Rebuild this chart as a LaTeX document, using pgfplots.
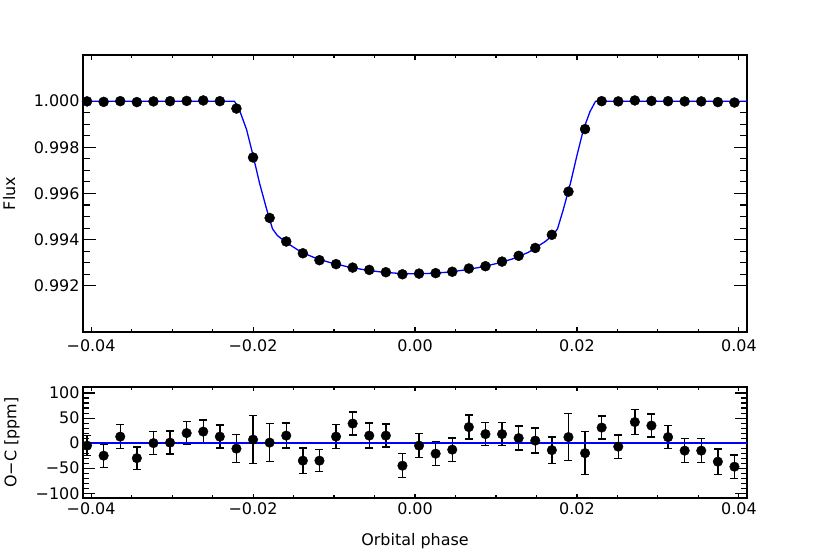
\documentclass[border=0pt]{standalone}
\usepackage{pgfplots}
\pgfplotsset{compat=1.18}
\usepackage{fontspec}
\setmainfont{DejaVu Sans}
\definecolor{fitblue}{RGB}{0,0,255}
\begin{document}
\begin{tikzpicture}[x=1bp,y=1bp]
\path[use as bounding box] (0,0) rectangle (830,554);
\pgfplotsset{
  every axis/.append style={
    scale only axis, width=664bp,
    axis line style={line width=1.3bp},
    tick style={line width=1.1bp, black},
    tick align=inside,
    xmin=-0.041, xmax=0.041,
    xtick={-0.04,-0.02,0,0.02,0.04},
    scaled x ticks=false, scaled y ticks=false,
    minor x tick num=3,
    tick label style={font=\fontsize{16}{19}\selectfont},
    label style={font=\fontsize{16}{19}\selectfont},
    clip=false,
  },
}
% ---------- top panel ----------
\begin{axis}[
  at={(83bp,222bp)}, anchor=south west, height=277bp,
  ymin=0.990, ymax=1.002,
  ytick={0.992,0.994,0.996,0.998,1.000},
  yticklabels={0.992,0.994,0.996,0.998,1.000},
  minor y tick num=3,
  xticklabels={−0.04,−0.02,0.00,0.02,0.04},
  xticklabel style={yshift=-4bp},
  major tick length=13bp, minor tick length=7bp,
  x tick style={/pgfplots/major tick length=5bp, /pgfplots/minor tick length=3bp},
  ylabel={Flux},
  ylabel style={at={(axis description cs:-0.111,0.5)}, anchor=center},
]
\addplot[only marks, mark=*, mark size=5bp, black] table {
x y
-0.04050 0.99999
-0.03845 0.99997
-0.03640 1.00000
-0.03435 0.99996
-0.03230 0.99999
-0.03025 1.00000
-0.02820 1.00001
-0.02615 1.00003
-0.02410 1.00000
-0.02205 0.99968
-0.02000 0.99756
-0.01795 0.99494
-0.01590 0.99392
-0.01385 0.99341
-0.01180 0.99311
-0.00975 0.99294
-0.00770 0.99279
-0.00565 0.99269
-0.00360 0.99259
-0.00155 0.99250
0.00050 0.99253
0.00255 0.99255
0.00460 0.99261
0.00665 0.99275
0.00870 0.99285
0.01075 0.99305
0.01280 0.99330
0.01485 0.99364
0.01690 0.99421
0.01895 0.99608
0.02100 0.99879
0.02305 1.00000
0.02510 0.99999
0.02715 1.00003
0.02920 1.00001
0.03125 1.00000
0.03330 0.99999
0.03535 0.99999
0.03740 0.99996
0.03945 0.99994
};
\addplot[fitblue, line width=1.3bp, no markers] coordinates {
(-0.0410,1.00000) (-0.0223,1.00000) (-0.0216,0.99954) (-0.0208,0.99877)
(-0.0200,0.99765) (-0.0192,0.99645) (-0.0183,0.99529) (-0.0176,0.99447)
(-0.0170,0.99418) (-0.0160,0.99390) (-0.0140,0.99345) (-0.0120,0.99316)
(-0.0100,0.99296) (-0.0080,0.99280) (-0.0060,0.99268) (-0.0040,0.99259)
(-0.0020,0.99254) (0.0000,0.99252) (0.0020,0.99254) (0.0040,0.99259)
(0.0060,0.99268) (0.0080,0.99280) (0.0100,0.99296) (0.0120,0.99316)
(0.0140,0.99345) (0.0160,0.99390) (0.0170,0.99418) (0.0176,0.99447)
(0.0183,0.99529) (0.0192,0.99645) (0.0200,0.99765) (0.0208,0.99877)
(0.0216,0.99954) (0.0223,1.00000) (0.0410,1.00000)
};
\end{axis}
% ---------- bottom panel ----------
\begin{axis}[
  at={(83bp,56bp)}, anchor=south west, height=111bp,
  ymin=-109.5, ymax=112,
  ytick={-100,-50,0,50,100},
  yticklabels={−100,−50,0,50,100},
  minor y tick num=4,
  xticklabels={−0.04,−0.02,0.00,0.02,0.04},
  xticklabel style={yshift=-1bp},
  major tick length=12bp, minor tick length=6bp,
  x tick style={/pgfplots/major tick length=4bp, /pgfplots/minor tick length=3bp},
  ylabel={O−C [ppm]},
  ylabel style={at={(axis description cs:-0.107,0.5)}, anchor=center},
  xlabel={Orbital phase},
  xlabel style={at={(axis description cs:0.5,-0.387)}, anchor=center},
]
\addplot[only marks, mark=*, mark size=4.8bp, black,
  error bars/.cd, y dir=both, y explicit,
  error bar style={line width=1.3bp, black},
  error mark options={rotate=90, mark size=4bp, line width=1.3bp, black},
] table[x=x, y=y, y error=e] {
x y e
-0.04050 -5 20
-0.03845 -25 23
-0.03640 13 24
-0.03435 -30 22
-0.03230 0 23
-0.03025 1 23
-0.02820 20 23
-0.02615 23 23
-0.02410 13 23
-0.02205 -11 28
-0.02000 7 48
-0.01795 1 38
-0.01590 15 25
-0.01385 -35 25
-0.01180 -35 22
-0.00975 13 24
-0.00770 39 23
-0.00565 15 25
-0.00360 15 23
-0.00155 -45 24
0.00050 -5 24
0.00255 -21 23
0.00460 -13 23
0.00665 32 24
0.00870 18 23
0.01075 18 23
0.01280 10 24
0.01485 5 25
0.01690 -14 26
0.01895 12 47
0.02100 -20 43
0.02305 31 23
0.02510 -7 23
0.02715 42 25
0.02920 35 23
0.03125 12 23
0.03330 -15 24
0.03535 -15 24
0.03740 -37 25
0.03945 -47 23
};
\addplot[fitblue, line width=1.3bp, no markers] coordinates {(-0.041,0) (0.041,0)};
\end{axis}
\end{tikzpicture}
\end{document}
